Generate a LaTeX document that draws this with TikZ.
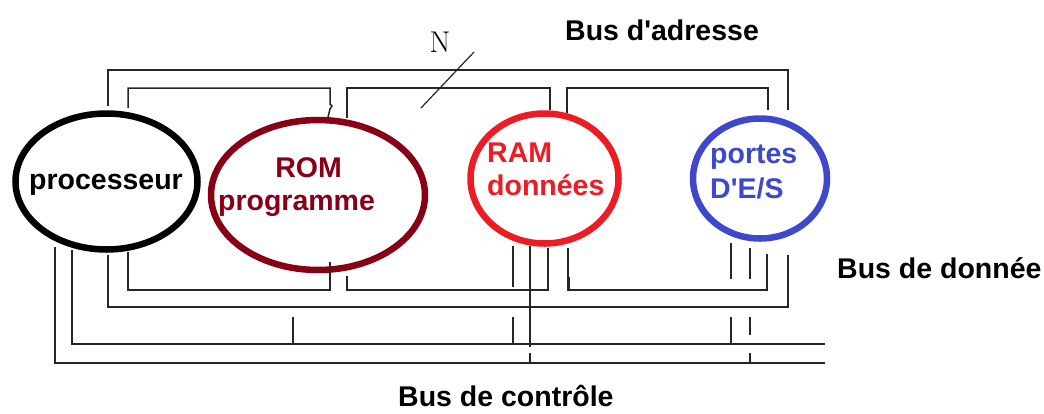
\documentclass[tikz,border=0pt]{standalone}
\usepackage{fontspec}
\setmainfont{Liberation Sans}[Ligatures=TeXOff]
\usetikzlibrary{shapes.geometric}
\definecolor{romred}{RGB}{136,0,21}
\definecolor{ramred}{RGB}{237,28,36}
\definecolor{ioblue}{RGB}{63,72,204}
\begin{document}
\begin{tikzpicture}[x=1pt,y=-1pt,
  bus/.style={draw=black!85,line width=1.5pt,line join=miter},
  ring/.style={draw,ellipse,line width=6.5pt,inner sep=0pt},
  lbl/.style={font=\fontsize{28.5}{30}\selectfont\bfseries,inner sep=0pt}]
\useasboundingbox[fill=white] (0,0) rectangle (1044,413);
% memories and processor
\node[ring,draw=black,minimum width=182pt,minimum height=136pt] (cpu) at (106.5,181.5) {};
\node[ring,draw=romred,minimum width=214pt,minimum height=150pt] (rom) at (318,195) {};
\node[ring,draw=ramred,minimum width=148pt,minimum height=130pt] (ram) at (544.5,178.5) {};
\node[ring,draw=ioblue,minimum width=134pt,minimum height=120pt] (io) at (760,178.5) {};
% texts
\node[lbl,anchor=base] (tcpu) at (106,189) {processeur};
\node[lbl,anchor=base,text=romred] (trom1) at (308.5,177) {ROM};
\node[lbl,anchor=base,text=romred] (trom2) at (296.5,210) {programme};
\node[lbl,anchor=base west,text=ramred] (tram1) at (487,162) {RAM};
\node[lbl,anchor=base west,text=ramred] (tram2) at (487,195) {données};
\node[lbl,anchor=base west,text=ioblue] (tio1) at (710,163) {portes};
\node[lbl,anchor=base west,text=ioblue] (tio2) at (710,198) {D'E/S};
\node[lbl,anchor=base west] (badr) at (565,40) {Bus d'adresse};
\node[lbl,anchor=base west] (bdon) at (837,278) {Bus de donnée};
\node[lbl,anchor=base west] (bctl) at (398,406) {Bus de contrôle};
\node[anchor=base,inner sep=0pt,font=\fontspec{Latin Modern Roman}\fontsize{30}{31}\selectfont] (nlab) at (440,52) {N};
% address bus
\draw[bus] (108,106) -- (108,70) -- (788,70) -- (788,110);
\draw[bus,line width=1.2pt] (421,108) -- (474,52);
% data bus, top
\draw[bus] (128,108) -- (128,88) -- (330,88) -- (330,104) -- (332,106) -- (330,109) -- (328,117);
\draw[bus] (347,118) -- (347,88) -- (550,88) -- (550,110);
\draw[bus] (567,113) -- (567,88) -- (768,88) -- (768,110);
% data bus, bottom
\draw[bus] (128,252) -- (128,290) -- (330,290) -- (330,262);
\draw[bus] (347,276) -- (347,290) -- (548,290) -- (548,248);
\draw[bus] (568,248) -- (568,290) -- (767,290) -- (767,254);
\draw[bus,line width=3pt] (568,277) -- (568,291);
\draw[bus] (108,255) -- (108,307) -- (788,307) -- (788,255);
% control bus
\draw[bus] (72,250) -- (72,344) -- (825,344);
\draw[bus] (55,247) -- (55,363) -- (825,363);
\draw[bus] (293,317) -- (293,344);
\draw[bus] (513,246) -- (513,287);
\draw[bus] (513,317) -- (513,344);
\draw[bus] (530,246) -- (530,347);
\draw[bus] (530,353) -- (530,363);
\draw[bus] (731,243) -- (731,279);
\draw[bus] (750,248) -- (750,279);
\draw[bus] (731,317) -- (731,344);
\draw[bus] (750,317) -- (750,335);
\draw[bus] (750,353) -- (750,363);
\end{tikzpicture}
\end{document}
